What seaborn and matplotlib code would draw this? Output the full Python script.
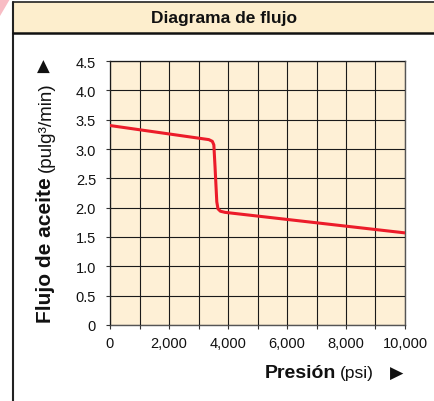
import matplotlib
matplotlib.use("Agg")
import matplotlib.pyplot as plt
import seaborn as sns
import numpy as np
import pandas as pd
from matplotlib.patches import Polygon, Rectangle
from matplotlib.lines import Line2D
from matplotlib.ticker import MultipleLocator, FixedLocator

# ---- data ----
pressure_psi = [0, 3350, 3470, 3520, 3560, 3620, 3660, 3740, 3900, 10000]
oil_flow = [3.40, 3.16, 3.13, 3.07, 2.70, 2.10, 1.98, 1.94, 1.92, 1.57]
x_ticks = [0, 2000, 4000, 6000, 8000, 10000]
x_tick_labels = ["0", "2,000", "4,000", "6,000", "8,000", "10,000"]
y_ticks = [0, 0.5, 1.0, 1.5, 2.0, 2.5, 3.0, 3.5, 4.0, 4.5]
y_tick_labels = ["0", "0.5", "1.0", "1.5", "2.0", "2.5", "3.0", "3.5", "4.0", "4.5"]
title = "Diagrama de flujo"

sns.set_theme(style="white")
plt.rcParams['font.family'] = ['Liberation Sans', 'DejaVu Sans']

W, H = 435, 402
fig = plt.figure(figsize=(W / 100, H / 100), dpi=100)
fig.patch.set_facecolor("white")

def fx(px):
    return px / W

def fy(py):
    return 1 - py / H

# ---- card decoration ----
fig.patches.append(Polygon([[fx(0), fy(0)], [fx(10), fy(0)], [fx(0), fy(17)]],
                           closed=True, transform=fig.transFigure,
                           facecolor="#f8bcc4", edgecolor="none", zorder=0))
fig.patches.append(Rectangle((fx(13), fy(34)), fx(W) - fx(13), fy(3) - fy(34),
                             transform=fig.transFigure, facecolor="#fdeecd",
                             edgecolor="none", zorder=0))
fig.lines.append(Line2D([fx(13), fx(13)], [fy(3), fy(H)], transform=fig.transFigure,
                        color="#222222", lw=1.5))
fig.lines.append(Line2D([fx(13), fx(W)], [fy(3), fy(3)], transform=fig.transFigure,
                        color="#222222", lw=1.2))
fig.lines.append(Line2D([fx(13), fx(W)], [fy(34), fy(34)], transform=fig.transFigure,
                        color="#111111", lw=1.8))
fig.text(fx(224), fy(19), title, ha="center", va="center", fontsize=12.5,
         fontweight="bold", color="#111111")

# ---- axes ----
ax = fig.add_axes([fx(110), fy(326), fx(405) - fx(110), fy(62) - fy(326)])
ax.set_facecolor("#fef0d6")
df = pd.DataFrame({"Presion": pressure_psi, "Flujo": oil_flow})
sns.lineplot(data=df, x="Presion", y="Flujo", ax=ax, estimator=None, sort=False,
             color="#ec1c2a", linewidth=2.2, zorder=5)
ax.set_xlim(0, 10000)
ax.set_ylim(0, 4.5)
ax.xaxis.set_major_locator(FixedLocator(x_ticks))
ax.set_xticklabels(x_tick_labels)
ax.xaxis.set_minor_locator(MultipleLocator(1000))
ax.yaxis.set_major_locator(FixedLocator(y_ticks))
ax.set_yticklabels(y_tick_labels)
ax.grid(True, which="both", color="#1a1a1a", linewidth=0.8)
ax.set_axisbelow(False)
for ln in ax.get_xgridlines() + ax.get_ygridlines():
    ln.set_zorder(2)
ax.tick_params(axis="both", which="both", direction="out", length=3, width=0.8,
               color="#333333", labelsize=10.5, labelcolor="#111111")
ax.tick_params(axis="y", pad=7, left=True)
ax.tick_params(axis="x", pad=5, bottom=True, which="both")
for s in ax.spines.values():
    s.set_color("#555555")
    s.set_linewidth(1.0)
ax.set_xlabel("")
ax.set_ylabel("")

# ---- composite axis labels ----
fig.canvas.draw()
renderer = fig.canvas.get_renderer()

# x label
xb = 378  # baseline, px from top
p1 = fig.text(fx(265), fy(xb), "Presi\u00f3n", ha="left", va="baseline",
              fontsize=14, fontweight="bold", color="#111111")
bb = p1.get_window_extent(renderer)
fig.text(bb.x1 / W + fx(4), fy(xb), "(psi)", ha="left", va="baseline",
         fontsize=12.5, color="#111111")
fig.text(fx(403), fy(374), "\u25B6", ha="right", va="center",
         fontsize=12.5, family=["DejaVu Sans"], color="#111111")

# y label (rotated)
yb = 51  # baseline x px
t1 = fig.text(fx(yb), fy(323), "Flujo de aceite", rotation=90, rotation_mode="anchor",
              ha="left", va="baseline", fontsize=15, fontweight="bold",
              color="#111111")
bb = t1.get_window_extent(renderer)
fig.text(fx(yb), bb.y1 / H + 5 / H, "(pulg\u00b3/min)", rotation=90,
         rotation_mode="anchor", ha="left", va="baseline", fontsize=13.5,
         color="#111111")
fig.text(fx(43.5), fy(67), "\u25B2", ha="center", va="center",
         fontsize=12, family=["DejaVu Sans"], color="#111111")

fig.savefig("out.png", dpi=100)
